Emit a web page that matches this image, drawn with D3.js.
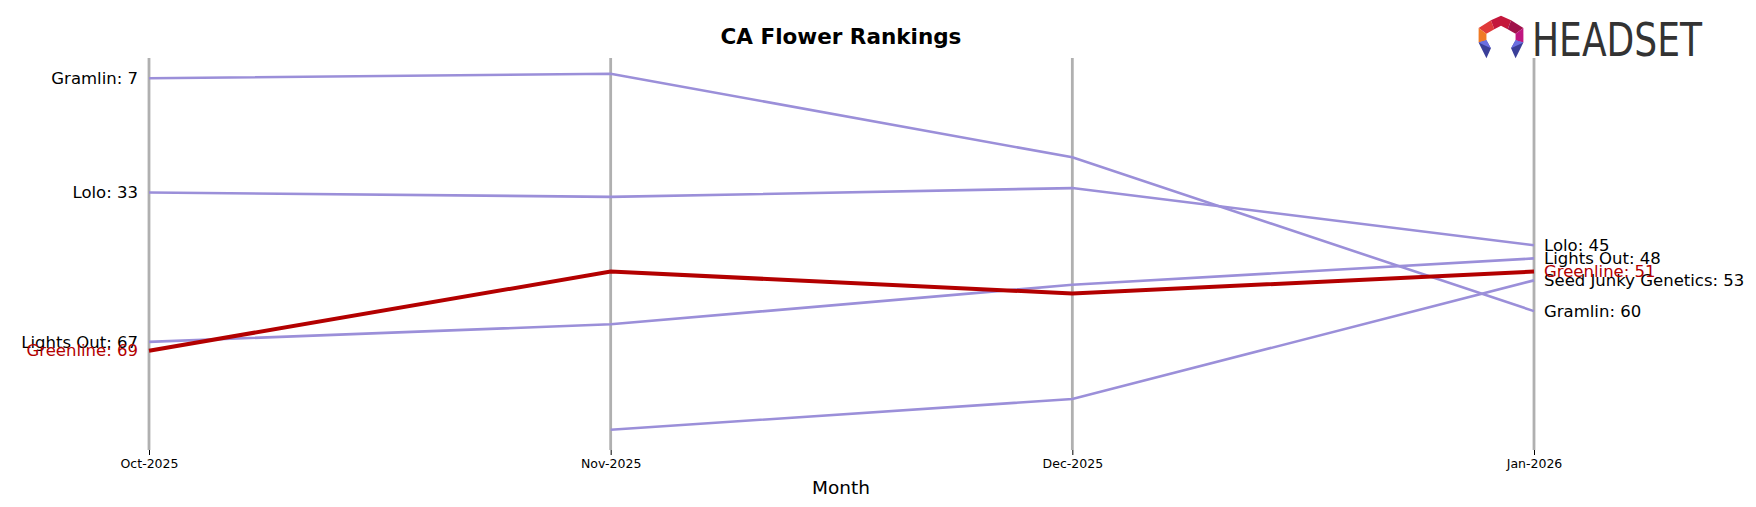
<!DOCTYPE html>
<html><head><meta charset="utf-8">
<script src="https://cdn.jsdelivr.net/npm/d3@7"></script>
<style>body{margin:0;background:#fff}text{font-family:"DejaVu Sans",sans-serif}</style>
</head><body><svg id="chart" width="1756" height="507"></svg>
<script>
var months = ["Oct-2025", "Nov-2025", "Dec-2025", "Jan-2026"];
var gramlin = [7, 6, 25, 60];
var lolo = [33, 34, 32, 45];
var lightsOut = [67, 63, 54, 48];
var greenline = [69, 51, 56, 51];
var seedJunky = [null, 87, 80, 53];

var series = [
  {name: "Gramlin", values: gramlin},
  {name: "Lolo", values: lolo},
  {name: "Lights Out", values: lightsOut},
  {name: "Seed Junky Genetics", values: seedJunky},
  {name: "Greenline", values: greenline, highlight: true}
];

var svg = d3.select("#chart");
var x = d3.scalePoint().domain(months).range([149, 1534]);
var y = d3.scaleLinear().domain([2.4, 91.6]).range([58, 450]);

// vertical month lines
svg.selectAll(".vline").data(months).enter().append("line")
  .attr("x1", d => x(d)).attr("x2", d => x(d))
  .attr("y1", 58).attr("y2", 450)
  .attr("stroke", "#b0b0b0").attr("stroke-width", 2.8);

svg.append("g").attr("transform", "translate(0,450)")
  .call(d3.axisBottom(x).tickSize(5).tickPadding(4))
  .call(g => g.select(".domain").remove())
  .call(g => g.selectAll("text").attr("font-size", 12.5).attr("font-family", "DejaVu Sans"));

var line = d3.line().defined(d => d.v != null).x(d => x(d.m)).y(d => y(d.v));

series.forEach(function(s) {
  var pts = s.values.map((v, i) => ({m: months[i], v: v}));
  svg.append("path").datum(pts).attr("d", line).attr("fill", "none")
    .attr("stroke", s.highlight ? "#b30000" : "#9b8fd9")
    .attr("stroke-width", s.highlight ? 4 : 2.6);
  var col = s.highlight ? "#b30000" : "#000";
  if (s.values[0] != null) {
    svg.append("text").attr("x", x(months[0]) - 11).attr("y", y(s.values[0]))
      .attr("dy", "0.35em").attr("text-anchor", "end").attr("font-size", 16.5)
      .attr("fill", col).text(s.name + ": " + s.values[0]);
  }
  svg.append("text").attr("x", x(months[3]) + 10).attr("y", y(s.values[3]))
    .attr("dy", "0.35em").attr("font-size", 16.5)
    .attr("fill", col).text(s.name + ": " + s.values[3]);
});

svg.append("text").attr("x", 841).attr("y", 44).attr("text-anchor", "middle")
  .attr("font-size", 21.5).attr("font-weight", "bold").text("CA Flower Rankings");
svg.append("text").attr("x", 841).attr("y", 494).attr("text-anchor", "middle")
  .attr("font-size", 18.5).text("Month");

// logo
var lg = svg.append("g").attr("transform", "translate(1501,37) scale(1.12)");
var segs = [
  {p: "M-20,-8 L-9,-15 L-6,-7 L-13,-3 Z", c: "#e03a3a"},
  {p: "M-9,-15 L0,-19 L9,-15 L6,-7 L0,-10 L-6,-7 Z", c: "#c4173b"},
  {p: "M9,-15 L20,-8 L13,-3 L6,-7 Z", c: "#a0124a"},
  {p: "M20,-8 L20,5 L13,3 L13,-3 Z", c: "#c01680"},
  {p: "M-20,-8 L-20,5 L-13,3 L-13,-3 Z", c: "#f07a24"},
  {p: "M-20,5 L-13,3 L-9,10 L-13,19 Z", c: "#3a3f99"},
  {p: "M20,5 L13,3 L9,10 L13,19 Z", c: "#3a3f99"},
  {p: "M-20,5 L-13,3 L-9,10 Z", c: "#6b6fe0"},
  {p: "M20,5 L13,3 L9,10 Z", c: "#6b6fe0"}
];
lg.selectAll("path").data(segs).enter().append("path")
  .attr("d", d => d.p).attr("fill", d => d.c);
svg.append("text").attr("x", 1532).attr("y", 56).attr("font-size", 46)
  .attr("font-family", "Liberation Sans Narrow, DejaVu Sans Condensed, sans-serif")
  .attr("textLength", 170).attr("lengthAdjust", "spacingAndGlyphs")
  .attr("fill", "#333").text("HEADSET");
</script></body></html>
